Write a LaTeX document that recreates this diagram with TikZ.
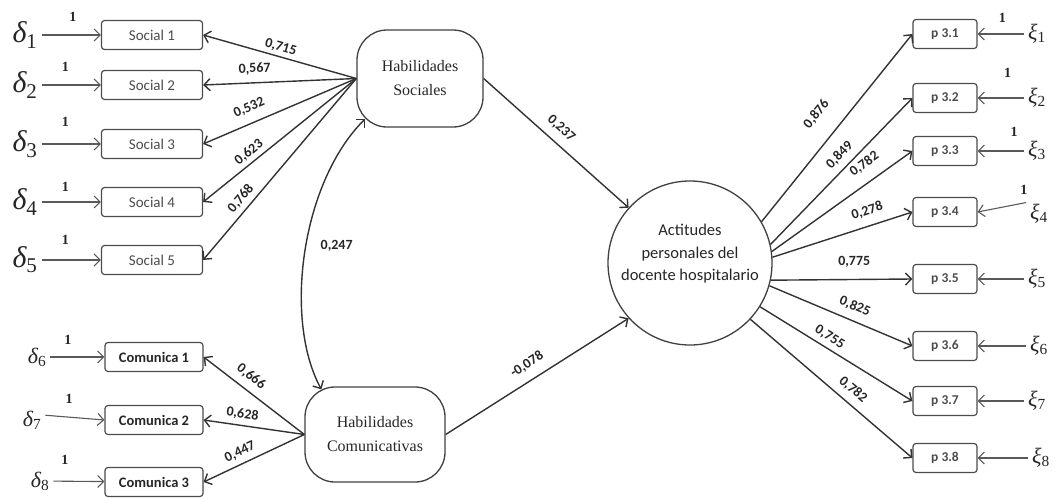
\documentclass[tikz,border=0pt]{standalone}
\usepackage{fontspec}
\setmainfont{Carlito}
\newfontfamily\serifhab{Liberation Serif}
\usetikzlibrary{arrows.meta}

\begin{document}
\begin{tikzpicture}[x=1pt, y=-1pt, >={Straight Barb[length=6pt, width=12pt]},
	item/.style={draw=black!70, line width=1.2pt, rounded corners=3pt, minimum height=29pt, inner sep=2pt, text=black!70},
	social/.style={item, minimum width=101pt, font=\fontsize{15}{17}\selectfont},
	comunica/.style={item, minimum width=98pt, font=\bfseries\fontsize{14.5}{17}\selectfont, text=black!85},
	pregunta/.style={item, minimum width=64pt, font=\bfseries\fontsize{13.5}{16}\selectfont},
	latente/.style={draw=black!75, line width=1.3pt, rounded corners=30pt, align=center, inner sep=0pt, font=\serifhab\fontsize{16}{24}\selectfont, text=black!85},
	error/.style={inner sep=1pt, font=\serifhab\itshape\fontsize{30}{32}\selectfont, text=black!85},
	errsmall/.style={error, font=\serifhab\itshape\fontsize{22}{24}\selectfont},
	flecha/.style={->, draw=black!80, line width=1.4pt},
	fina/.style={->, draw=black!65, line width=1.1pt},
	carga/.style={sloped, above=#1, inner sep=3pt, font=\bfseries\fontsize{14}{16}\selectfont, text=black!85},
	carga/.default=2pt,
	uno/.style={above=#1, inner sep=1pt, font=\serifhab\bfseries\fontsize{14}{16}\selectfont, text=black!85},
	uno/.default=12pt]

\useasboundingbox (0,0) rectangle (1060,498);

% Indicators of Habilidades Sociales
\node[social] (s1) at (152,35) {Social 1};
\node[social] (s2) at (152,85) {Social 2};
\node[social] (s3) at (152,144) {Social 3};
\node[social] (s4) at (152,202) {Social 4};
\node[social] (s5) at (152,260) {Social 5};

% Indicators of Habilidades Comunicativas
\node[comunica] (c1) at (154,357) {Comunica 1};
\node[comunica] (c2) at (154,420) {Comunica 2};
\node[comunica] (c3) at (154,482) {Comunica 3};

% Indicators of the attitudes
\node[pregunta] (p1) at (945,34) {p 3.1};
\node[pregunta] (p2) at (945,98) {p 3.2};
\node[pregunta] (p3) at (945,151) {p 3.3};
\node[pregunta] (p4) at (945,212) {p 3.4};
\node[pregunta] (p5) at (945,279) {p 3.5};
\node[pregunta] (p6) at (945,346) {p 3.6};
\node[pregunta] (p7) at (945,401) {p 3.7};
\node[pregunta] (p8) at (945,458) {p 3.8};

% Latent variables
\node[latente, minimum width=126pt, minimum height=97pt] (hs) at (420,78.5) {Habilidades\\Sociales};
\node[latente, minimum width=140pt, minimum height=95pt] (hc) at (375,434.5) {Habilidades\\Comunicativas};
\node[draw=black!75, line width=1.3pt, circle, minimum size=164pt, inner sep=0pt] (act) at (690,263) {};
\node[align=center, font=\fontsize{16.5}{22.5}\selectfont, text=black!85] (acttxt) at (690,254) {Actitudes\\personales del\\docente hospitalario};

% Error terms
\node[error] (d1) at (25,35) {δ\textsubscript{\upshape 1}};
\node[error] (d2) at (25,85) {δ\textsubscript{\upshape 2}};
\node[error] (d3) at (25,144) {δ\textsubscript{\upshape 3}};
\node[error] (d4) at (25,202) {δ\textsubscript{\upshape 4}};
\node[error] (d5) at (25,260) {δ\textsubscript{\upshape 5}};
\node[errsmall] (d6) at (37,357) {δ\textsubscript{\upshape 6}};
\node[errsmall] (d7) at (32,420) {δ\textsubscript{\upshape 7}};
\node[errsmall] (d8) at (40,481) {δ\textsubscript{\upshape 8}};

\node[errsmall] (x1) at (1037,34) {ξ\textsubscript{\upshape 1}};
\node[errsmall] (x2) at (1037,98) {ξ\textsubscript{\upshape 2}};
\node[errsmall] (x3) at (1037,151) {ξ\textsubscript{\upshape 3}};
\node[errsmall] (x4) at (1039,214) {ξ\textsubscript{\upshape 4}};
\node[errsmall] (x5) at (1037,279) {ξ\textsubscript{\upshape 5}};
\node[errsmall] (x6) at (1039,346) {ξ\textsubscript{\upshape 6}};
\node[errsmall] (x7) at (1037,401) {ξ\textsubscript{\upshape 7}};
\node[errsmall] (x8) at (1041,458) {ξ\textsubscript{\upshape 8}};

% Error arrows, left
\draw[fina, shorten <=3pt] (d1) -- (s1) node[uno, pos=0.55] {1};
\draw[fina, shorten <=3pt] (d2) -- (s2) node[uno, pos=0.43] {1};
\draw[fina, shorten <=3pt] (d3) -- (s3) node[uno=16pt, pos=0.43] {1};
\draw[fina, shorten <=3pt] (d4) -- (s4) node[uno=9pt, pos=0.43] {1};
\draw[fina, shorten <=3pt] (d5) -- (s5) node[uno=14pt, pos=0.43] {1};
\draw[fina, shorten <=3pt] (d6) -- (c1) node[uno=11pt, pos=0.36] {1};
\draw[fina, shorten <=3pt] ([yshift=5pt]d7.east) -- (c2.west) node[uno, pos=0.43] {1};
\draw[fina, shorten <=3pt] (d8) -- (c3) node[uno=15pt, pos=0.27] {1};

% Error arrows, right
\draw[fina, shorten <=3pt] (x1) -- (p1) node[uno=10pt, pos=0.5] {1};
\draw[fina, shorten <=3pt] (x2) -- (p2) node[uno=19pt, pos=0.39] {1};
\draw[fina, shorten <=3pt] (x3) -- (p3) node[uno=13pt, pos=0.26] {1};
\draw[fina, shorten <=3pt] ([yshift=12pt]x4.west) -- (p4.east) node[uno=7pt, pos=0.1] {1};
\draw[fina, shorten <=3pt] (x5) -- (p5);
\draw[fina, shorten <=3pt] (x6) -- (p6);
\draw[fina, shorten <=3pt] (x7) -- (p7);
\draw[fina, shorten <=3pt] (x8) -- (p8);

% Loadings of Habilidades Sociales
\draw[flecha] (hs.west) -- (s1.east) node[carga=0pt, pos=0.51] {0,715};
\draw[flecha] (hs.west) -- (s2.east) node[carga=4.5pt, pos=0.66] {0,567};
\draw[flecha] (hs.west) -- (s3.east) node[carga=6pt, pos=0.66] {0,532};
\draw[flecha] (hs.west) -- (s4.east) node[carga=0.5pt, pos=0.66] {0,623};
\draw[flecha] (hs.west) -- (s5.east) node[carga=1.3pt, pos=0.7] {0,768};

% Loadings of Habilidades Comunicativas
\draw[flecha] (hc.west) -- (c1.east) node[carga=4pt, pos=0.61] {0,666};
\draw[flecha] (hc.west) -- (c2.east) node[carga, pos=0.63] {0,628};
\draw[flecha] (hc.west) -- (c3.east) node[carga, pos=0.59] {0,447};

% Structural paths and correlation
\draw[flecha] (hs.east) -- (act.138) node[carga=5pt, pos=0.47] {0,237};
\draw[flecha] (hc.east) -- (act.222) node[carga=6pt, pos=0.49] {-0,078};
\draw[flecha, <->] ([shift={(17pt,-3pt)}]hc.north west) .. controls +(-38,-70) and +(-64,64) .. ([shift={(8.8pt,8.8pt)}]hs.south west)
	node[pos=0.52, right=14pt, inner sep=0pt, font=\bfseries\fontsize{14}{16}\selectfont, text=black!85] {0,247};

% Loadings of the attitudes
\draw[flecha] (act.30) -- (p1.west) node[carga=15pt, pos=0.49] {0,876};
\draw[flecha] (act.13) -- (p2.west) node[carga=3pt, pos=0.55] {0,849};
\draw[flecha] (act.8) -- (p3.west) node[carga=8pt, pos=0.73] {0,782};
\draw[flecha] (act.4) -- (p4.west) node[carga=5.5pt, pos=0.71] {0,278};
\draw[flecha] (act.-12) -- (p5.west) node[carga=8.5pt, pos=0.59] {0,775};
\draw[flecha] (act.-16) -- (p6.west) node[carga=4.5pt, pos=0.56] {0,825};
\draw[flecha] (act.-32) -- (p7.west) node[carga=1.5pt, pos=0.42] {0,755};
\draw[flecha] (act.-43) -- (p8.west) node[carga=4pt, pos=0.58] {0,782};

\end{tikzpicture}
\end{document}
